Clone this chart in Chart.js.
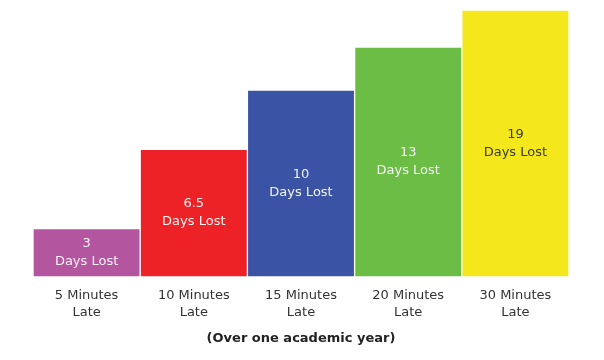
<!DOCTYPE html>
<html>
<head>
<meta charset="utf-8">
<script src="https://cdn.jsdelivr.net/npm/chart.js@4.4.1/dist/chart.umd.min.js"></script>
<style>
  html, body { margin: 0; padding: 0; background: #fff; }
  #wrap { width: 604px; height: 360px; }
</style>
</head>
<body>
<div id="wrap"><canvas id="lateChart" width="604" height="360"></canvas></div>
<script>
// data
const categories = [["5 Minutes", "Late"], ["10 Minutes", "Late"], ["15 Minutes", "Late"], ["20 Minutes", "Late"], ["30 Minutes", "Late"]];
const daysLost = [3, 6.5, 10, 13, 19];
// the bars are not drawn to scale in the original, so heights are kept separately
const barHeights = [48, 127, 186, 229, 266];
const barColors = ["#b4569f", "#ec2227", "#3a53a4", "#6cbd45", "#f4e81c"];
const labelColors = ["#f3f3f3", "#f3f3f3", "#f3f3f3", "#f3f3f3", "#3a3a2a"];

// draw "N / Days Lost" inside each bar
const barText = {
  id: "barText",
  afterDatasetsDraw(chart) {
    const ctx = chart.ctx;
    const meta = chart.getDatasetMeta(0);
    ctx.save();
    ctx.font = "13px 'DejaVu Sans', Verdana, sans-serif";
    ctx.textAlign = "center";
    ctx.textBaseline = "middle";
    meta.data.forEach((bar, i) => {
      const mid = (bar.y + bar.base) / 2;
      ctx.fillStyle = labelColors[i];
      ctx.fillText(String(daysLost[i]), bar.x, mid - 9);
      ctx.fillText("Days Lost", bar.x, mid + 9);
    });
    ctx.restore();
  }
};

new Chart(document.getElementById("lateChart"), {
  type: "bar",
  data: {
    labels: categories,
    datasets: [{
      data: barHeights,
      backgroundColor: barColors,
      borderColor: "rgba(255,255,255,0.6)",
      borderWidth: 1,
      categoryPercentage: 1,
      barPercentage: 1
    }]
  },
  options: {
    responsive: false,
    animation: false,
    layout: { padding: { left: 33, right: 35, top: 10, bottom: 14 } },
    plugins: { legend: { display: false }, tooltip: { enabled: false } },
    scales: {
      x: {
        grid: { display: false, drawTicks: false },
        border: { display: false },
        ticks: {
          color: "#333",
          padding: 11,
          font: { family: "'DejaVu Sans', Verdana, sans-serif", size: 13, lineHeight: 1.3 }
        },
        title: {
          display: true,
          text: "(Over one academic year)",
          color: "#222",
          padding: { top: -2, bottom: 0 },
          font: { family: "'DejaVu Sans', Verdana, sans-serif", size: 13, weight: "bold" }
        }
      },
      y: {
        display: false,
        min: 0,
        max: 266
      }
    }
  },
  plugins: [barText]
});
</script>
</body>
</html>
